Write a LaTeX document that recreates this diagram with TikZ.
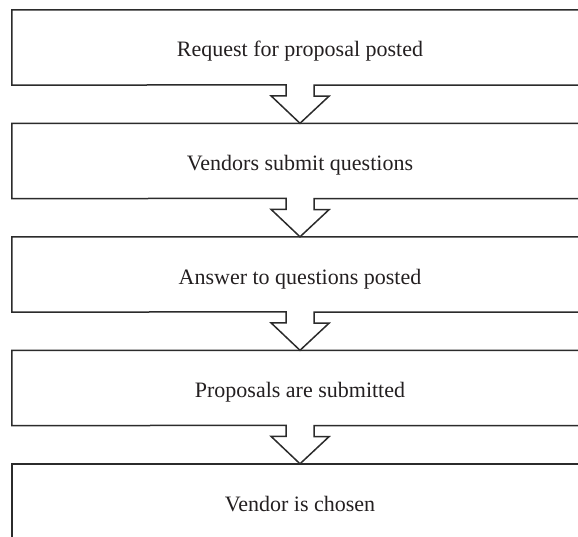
\documentclass[tikz,border=0pt]{standalone}
\usepackage{fontspec}
\setmainfont{Liberation Serif}
\definecolor{linegray}{HTML}{2B2B2B}
\definecolor{textgray}{HTML}{231F20}
\begin{document}
\begin{tikzpicture}[x=1pt,y=-1pt,
  stage/.style={minimum width=576pt, minimum height=75pt, inner sep=0pt,
    text height=24pt, text depth=5pt, text=textgray,
    font=\fontsize{22}{26}\selectfont},
  outline/.style={draw=linegray, line width=1.5pt, line join=miter}]
\useasboundingbox (0,0) rectangle (578,537);
\clip (0,0) rectangle (578,537);

% process stages, top to bottom
\node[stage] (s1) at (300,47.5)  {Request for proposal posted};
\node[stage] (s2) at (300,161)   {Vendors submit questions};
\node[stage] (s3) at (300,274.5) {Answer to questions posted};
\node[stage] (s4) at (300,388)   {Proposals are submitted};
\node[stage] (s5) at (300,501.5) {Vendor is chosen};

% each box outline runs into a hollow block arrow pointing at the next box
\foreach \a/\b in {s1/s2, s2/s3, s3/s4, s4/s5}{
  \draw[outline] (\a.south west) -- (\a.north west) -- (\a.north east)
    -- (\a.south east) -- ([xshift=14pt]\a.south) -- ++(0,11) -- ++(15,0)
    -- (\b.north) -- ++(-29,-27.5) -- ++(15,0) -- ++(0,-11) -- cycle;
}

% last stage runs past the lower edge
\draw[outline] (s5.south west) -- (s5.north west) -- (s5.north east) -- (s5.south east);
\end{tikzpicture}
\end{document}
